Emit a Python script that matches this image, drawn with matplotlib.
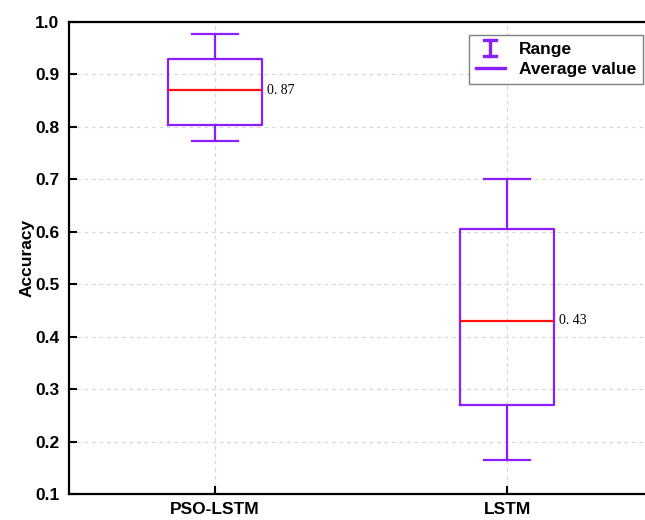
import matplotlib
matplotlib.use("Agg")
import matplotlib.pyplot as plt
from matplotlib.lines import Line2D
from matplotlib.legend_handler import HandlerBase

# Accuracy summary per model
models = ["PSO-LSTM", "LSTM"]
acc_min = [0.774, 0.165]
acc_q1 = [0.803, 0.270]
acc_avg = [0.87, 0.43]
acc_q3 = [0.930, 0.605]
acc_max = [0.977, 0.700]
y_ticks = [0.1, 0.2, 0.3, 0.4, 0.5, 0.6, 0.7, 0.8, 0.9, 1.0]

PURPLE = "#8B1EFF"
RED = "#FF1010"

plt.rcParams["font.family"] = ["Liberation Sans", "DejaVu Sans"]

fig = plt.figure(figsize=(6.45, 5.2), dpi=100)
ax = fig.add_axes([0.107, 0.05, 0.9055, 0.9077])

stats = []
for name, lo, q1, med, q3, hi in zip(models, acc_min, acc_q1, acc_avg, acc_q3, acc_max):
    stats.append(dict(label=name, whislo=lo, q1=q1, med=med, q3=q3, whishi=hi, fliers=[]))

positions = list(range(1, len(models) + 1))
ax.bxp(stats, positions=positions, widths=0.32, showfliers=False,
       boxprops=dict(color=PURPLE, linewidth=1.6),
       whiskerprops=dict(color=PURPLE, linewidth=1.6),
       capprops=dict(color=PURPLE, linewidth=1.6),
       medianprops=dict(color=RED, linewidth=1.6),
       capwidths=0.16, zorder=3)

for x, med in zip(positions, acc_avg):
    ax.annotate(f"{med:.2f}".replace(".", ". "), xy=(x + 0.16, med), xytext=(4, 0),
                textcoords="offset points", va="center", ha="left",
                fontsize=10, family=["Liberation Serif", "DejaVu Serif"])

ax.set_xlim(0.5, 2.5)
ax.set_ylim(0.1, 1.0)
ax.set_yticks(y_ticks)
ax.set_yticklabels([f"{t:.1f}" for t in y_ticks])
ax.set_xticks(positions)
ax.set_xticklabels(models)
ax.set_ylabel("Accuracy", fontsize=12.5, fontweight="bold", labelpad=0)

for lab in ax.get_xticklabels() + ax.get_yticklabels():
    lab.set_fontweight("bold")
    lab.set_fontsize(12.5)

ax.tick_params(direction="in", length=6, width=1.5)
ax.tick_params(axis="x", pad=6)
ax.tick_params(axis="y", pad=7)
for s in ax.spines.values():
    s.set_linewidth(1.6)

ax.grid(True, color="#d8d8d8", linestyle=(0, (3, 3)), linewidth=0.9, zorder=0)
ax.set_axisbelow(True)


class RangeHandler(HandlerBase):
    def create_artists(self, legend, orig_handle, xdescent, ydescent,
                       width, height, fontsize, trans):
        cx = width / 2 - xdescent
        y0, y1 = -ydescent - 1.5, height - ydescent + 1.5
        hw = width * 0.2
        lines = [
            Line2D([cx, cx], [y0, y1]),
            Line2D([cx - hw, cx + hw], [y0, y0]),
            Line2D([cx - hw, cx + hw], [y1, y1]),
        ]
        for ln in lines:
            ln.set_color(PURPLE)
            ln.set_linewidth(2.4)
            ln.set_transform(trans)
        return lines


range_handle = Line2D([], [], color=PURPLE)
avg_handle = Line2D([], [], color=PURPLE, linewidth=2.4)
leg = ax.legend([range_handle, avg_handle], ["Range", "Average value"],
                handler_map={range_handle: RangeHandler()},
                loc="upper right", bbox_to_anchor=(0.983, 0.9725),
                borderaxespad=0, fancybox=False, framealpha=1,
                edgecolor="#808080", prop=dict(weight="bold", size=12.5),
                handlelength=1.7, handletextpad=0.8, labelspacing=0.3,
                borderpad=0.4)
leg.get_frame().set_linewidth(1.0)

fig.savefig("out.png", dpi=100, facecolor="white")
